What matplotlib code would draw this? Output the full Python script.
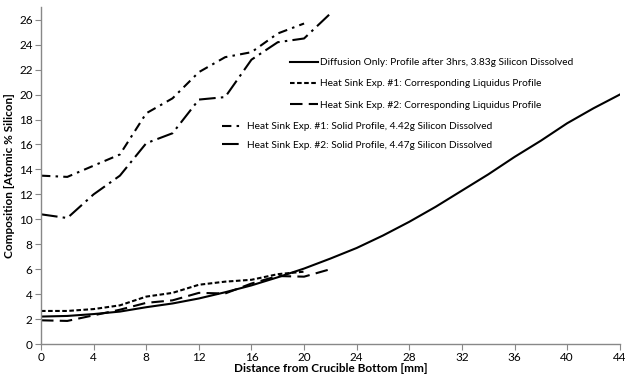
import numpy as np
import matplotlib.pyplot as plt

plt.rcParams['font.family'] = ['Lato', 'DejaVu Sans']

# Diffusion only profile (every 2 mm)
x_diff = [0, 2, 4, 6, 8, 10, 12, 14, 16, 18, 20, 22, 24, 26, 28, 30, 32, 34, 36, 38, 40, 42, 44]
y_diff = [2.2, 2.25, 2.4, 2.6, 2.95, 3.25, 3.65, 4.15, 4.7, 5.35, 6.05, 6.85, 7.7, 8.7,
          9.8, 11.0, 12.3, 13.6, 15.0, 16.3, 17.7, 18.9, 20.0]

# Liquidus profiles
x_liq1 = [0, 2, 4, 6, 8, 10, 12, 14, 16, 18, 20]
y_liq1 = [2.65, 2.65, 2.8, 3.1, 3.8, 4.1, 4.75, 5.0, 5.15, 5.6, 5.8]
x_liq2 = [0, 2, 4, 6, 8, 10, 12, 14, 16, 18, 20, 22]
y_liq2 = [1.9, 1.85, 2.3, 2.75, 3.3, 3.5, 4.1, 4.05, 4.85, 5.45, 5.4, 6.0]

# Solid profiles
x_sol1 = [0, 2, 4, 6, 8, 10, 12, 14, 16, 18, 20]
y_sol1 = [13.5, 13.4, 14.3, 15.2, 18.5, 19.7, 21.8, 23.0, 23.4, 24.9, 25.7]
x_sol2 = [0, 2, 4, 6, 8, 10, 12, 14, 16, 18, 20, 22]
y_sol2 = [10.4, 10.1, 12.0, 13.5, 16.1, 16.9, 19.6, 19.8, 22.8, 24.2, 24.5, 26.5]

labels_a = ['Diffusion Only: Profile after 3hrs, 3.83g Silicon Dissolved',
            'Heat Sink Exp. #1: Corresponding Liquidus Profile',
            'Heat Sink Exp. #2: Corresponding Liquidus Profile']
labels_b = ['Heat Sink Exp. #1: Solid Profile, 4.42g Silicon Dissolved',
            'Heat Sink Exp. #2: Solid Profile, 4.47g Silicon Dissolved']

fig = plt.figure(figsize=(6.25, 3.76), dpi=100)
ax = fig.add_axes([0.0656, 0.0851, 0.926, 0.8955])

lw = 1.5
l_diff, = ax.plot(x_diff, y_diff, color='black', lw=lw, ls='-')
l_liq1, = ax.plot(x_liq1, y_liq1, color='black', lw=lw, ls=(0, (2.2, 1.2)))
l_liq2, = ax.plot(x_liq2, y_liq2, color='black', lw=lw, ls=(0, (6, 3)))
l_sol1, = ax.plot(x_sol1, y_sol1, color='black', lw=lw, ls=(0, (4.5, 2.5, 1.2, 2.5)))
l_sol2, = ax.plot(x_sol2, y_sol2, color='black', lw=lw, ls=(0, (8, 2.5, 1.2, 2.5)))

ax.set_xlim(0, 44)
ax.set_ylim(0, 27)
ax.set_xticks(np.arange(0, 45, 4))
ax.set_yticks(np.arange(0, 27, 2))
for s in ['top', 'right']:
    ax.spines[s].set_visible(False)
for s in ['left', 'bottom']:
    ax.spines[s].set_color('#888888')
    ax.spines[s].set_linewidth(1.0)
ax.tick_params(direction='out', length=4, color='#888888', labelsize=8.5, pad=2)
ax.set_xlabel('Distance from Crucible Bottom [mm]', fontsize=8.5, fontweight='bold', labelpad=0)
ax.set_ylabel('Composition [Atomic % Silicon]', fontsize=8.5, fontweight='bold', labelpad=3)

fs = 7.3
leg1 = ax.legend([l_diff, l_liq1, l_liq2], labels_a, loc='upper left',
                 bbox_to_anchor=(290 / 625, 1 - 58 / 376), bbox_transform=fig.transFigure,
                 frameon=False, fontsize=fs, handlelength=2.8, handletextpad=0.2,
                 labelspacing=1.2, borderpad=0, borderaxespad=0)
ax.add_artist(leg1)
ax.legend([l_sol1, l_sol2], labels_b, loc='upper left',
          bbox_to_anchor=(222 / 625, 1 - 122 / 376), bbox_transform=fig.transFigure,
          frameon=False, fontsize=fs, handlelength=2.0, handletextpad=0.5,
          labelspacing=0.95, borderpad=0, borderaxespad=0)

fig.savefig('out.png', dpi=100)
